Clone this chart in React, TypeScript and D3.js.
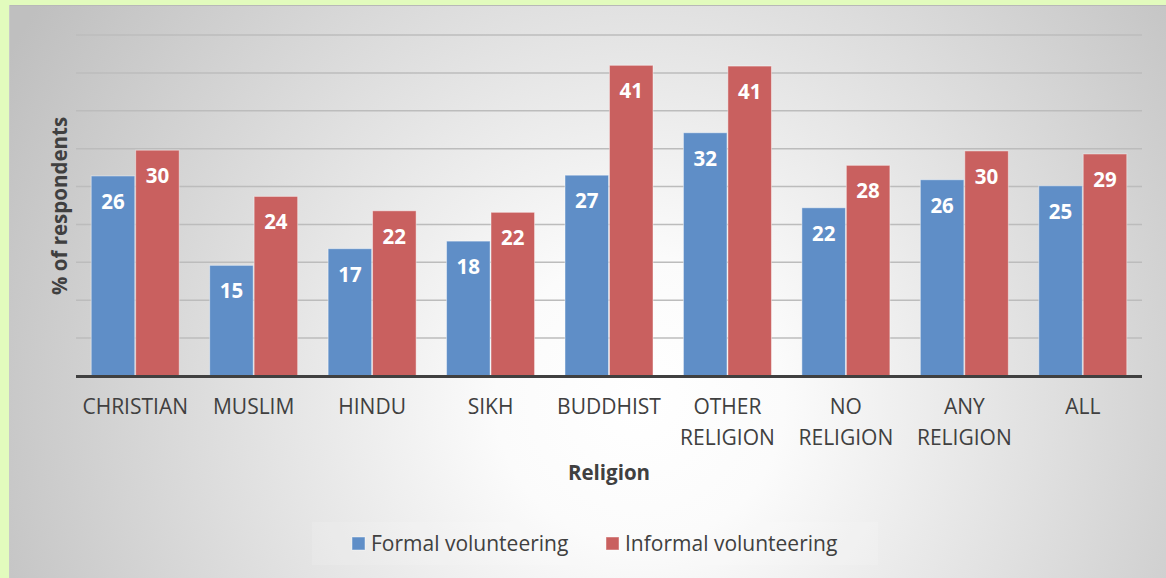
import React from "react";
import * as d3 from "d3";

const categories: string[][] = [
  ["CHRISTIAN"],
  ["MUSLIM"],
  ["HINDU"],
  ["SIKH"],
  ["BUDDHIST"],
  ["OTHER", "RELIGION"],
  ["NO", "RELIGION"],
  ["ANY", "RELIGION"],
  ["ALL"],
];
const formal: number[] = [26.4, 14.6, 16.8, 17.8, 26.5, 32.1, 22.2, 25.9, 25.1];
const informal: number[] = [29.8, 23.7, 21.8, 21.6, 41.0, 40.9, 27.8, 29.7, 29.3];
const seriesNames: string[] = ["Formal volunteering", "Informal volunteering"];
const yTicks: number[] = [0, 5, 10, 15, 20, 25, 30, 35, 40, 45];

const W = 1166;
const H = 578;
const FONT = "'Open Sans', sans-serif";
const TEXT = "#404040";
const COLORS = ["#5f8ec7", "#c9605f"];

export default function App() {
  const left = 76;
  const right = 1142;
  const top = 35;
  const bottom = 376;

  const x0 = d3
    .scaleBand<number>()
    .domain(d3.range(categories.length))
    .range([left, right])
    .paddingInner(0.257)
    .paddingOuter(0.1285);
  const x1 = d3
    .scaleBand<number>()
    .domain([0, 1])
    .range([0, x0.bandwidth()])
    .paddingInner(0.02);
  const y = d3.scaleLinear().domain([0, 45]).range([bottom, top]);

  const series = [formal, informal];

  return (
    <svg
      width={W}
      height={H}
      style={{ position: "absolute", left: 0, top: 0, display: "block" }}
    >
      <defs>
        <radialGradient
          id="bg"
          gradientUnits="userSpaceOnUse"
          cx={640}
          cy={400}
          r={720}
        >
          <stop offset="0" stopColor="#ffffff" />
          <stop offset="0.2" stopColor="#fbfbfb" />
          <stop offset="1" stopColor="#bfbfbf" />
        </radialGradient>
      </defs>
      <rect x={0} y={0} width={W} height={H} fill="#e2fbbd" />
      <rect x={9} y={5} width={W - 9} height={H - 5} fill="url(#bg)" />
      <line x1={9} x2={W} y1={5.5} y2={5.5} stroke="#b8b8b8" strokeWidth={1} />
      <line x1={9.5} x2={9.5} y1={5} y2={H} stroke="#c8c8c8" strokeWidth={1} />

      {/* gridlines */}
      {yTicks
        .filter((t) => t > 0)
        .map((t) => (
          <line
            key={t}
            x1={left}
            x2={right}
            y1={y(t)}
            y2={y(t)}
            stroke="#bcbcbc"
            strokeWidth={1.5}
          />
        ))}

      {/* bars */}
      {categories.map((_, i) => (
        <g key={i} transform={`translate(${x0(i)},0)`}>
          {series.map((s, j) => {
            const bx = x1(j) as number;
            const bw = x1.bandwidth();
            const by = y(s[i]);
            return (
              <g key={j}>
                <rect
                  x={bx}
                  y={by}
                  width={bw}
                  height={bottom - by}
                  fill={COLORS[j]}
                  stroke="#ffffff"
                  strokeOpacity={0.45}
                  strokeWidth={1}
                />
                <text
                  x={bx + bw / 2}
                  y={by + 33}
                  textAnchor="middle"
                  fill="#ffffff"
                  fontFamily={FONT}
                  fontWeight={700}
                  fontSize={20.5}
                >
                  {Math.round(s[i])}
                </text>
              </g>
            );
          })}
        </g>
      ))}

      {/* axis line */}
      <line
        x1={left}
        x2={right}
        y1={bottom + 0.5}
        y2={bottom + 0.5}
        stroke="#404040"
        strokeWidth={3}
      />

      {/* category labels */}
      {categories.map((lines, i) => (
        <text
          key={i}
          x={(x0(i) as number) + x0.bandwidth() / 2}
          y={414}
          textAnchor="middle"
          fill={TEXT}
          fontFamily={FONT}
          fontSize={21}
        >
          {lines.map((l, k) => (
            <tspan key={k} x={(x0(i) as number) + x0.bandwidth() / 2} dy={k === 0 ? 0 : 30.5}>
              {l}
            </tspan>
          ))}
        </text>
      ))}

      {/* axis titles */}
      <text
        x={609}
        y={480}
        textAnchor="middle"
        fill={TEXT}
        fontFamily={FONT}
        fontWeight={700}
        fontSize={20.5}
      >
        Religion
      </text>
      <text
        transform={`translate(67,206) rotate(-90)`}
        textAnchor="middle"
        fill={TEXT}
        fontFamily={FONT}
        fontWeight={700}
        fontSize={20.5}
      >
        % of respondents
      </text>

      {/* legend */}
      <rect x={312} y={522} width={566} height={43} fill="#ffffff" fillOpacity={0.12} />
      {seriesNames.map((name, j) => {
        const lx = j === 0 ? 352 : 606;
        return (
          <g key={name}>
            <rect
              x={lx}
              y={537}
              width={13}
              height={13}
              fill={COLORS[j]}
              stroke="#ffffff"
              strokeOpacity={0.45}
            />
            <text
              x={lx + 19}
              y={550.5}
              fill={TEXT}
              fontFamily={FONT}
              fontSize={21}
            >
              {name}
            </text>
          </g>
        );
      })}
    </svg>
  );
}
